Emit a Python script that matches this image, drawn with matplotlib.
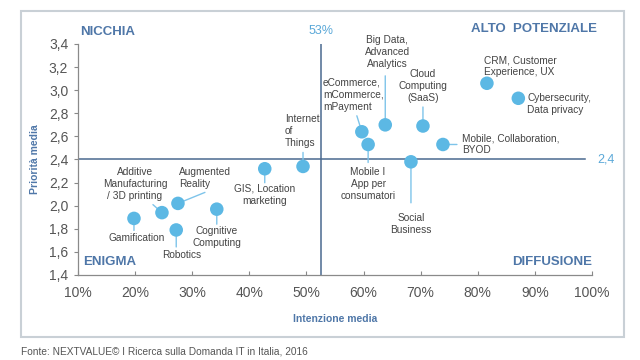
import matplotlib.pyplot as plt
from matplotlib.patches import Rectangle
from matplotlib.ticker import FuncFormatter

# data
labels = [
    "Gamification",
    "Additive\nManufacturing\n/ 3D printing",
    "Augmented\nReality",
    "Robotics",
    "Cognitive\nComputing",
    "GIS, Location\nmarketing",
    "Internet\nof\nThings",
    "eCommerce,\nmCommerce,\nmPayment",
    "Mobile I\nApp per\nconsumatori",
    "Big Data,\nAdvanced\nAnalytics",
    "Cloud\nComputing\n(SaaS)",
    "Social\nBusiness",
    "Mobile, Collaboration,\nBYOD",
    "CRM, Customer\nExperience, UX",
    "Cybersecurity,\nData privacy",
]
intenzione = [19.8, 24.7, 27.5, 27.2, 34.3, 42.7, 49.4, 59.7, 60.8, 63.8, 70.4, 68.3, 73.9, 81.6, 87.1]
priorita = [1.89, 1.94, 2.02, 1.79, 1.97, 2.32, 2.34, 2.64, 2.53, 2.70, 2.69, 2.38, 2.53, 3.06, 2.93]

x_split = 52.5
y_split = 2.4
x_ticks = [10, 20, 30, 40, 50, 60, 70, 80, 90, 100]
y_ticks = [1.4, 1.6, 1.8, 2.0, 2.2, 2.4, 2.6, 2.8, 3.0, 3.2, 3.4]

# label placement in pixels relative to each point: text offset, alignment, leader end
placement = [
    ((3, -20), "center", (0, -12)),
    ((-27, 29), "center", (-9, 8)),
    ((1, 25), "left", (27, 11)),
    ((5, -25), "center", (0, -17)),
    ((0, -28), "center", (0, -15)),
    ((0, -26), "center", (0, -14)),
    ((-18, 35), "left", (0, 14)),
    ((-39, 37), "left", (-5, 16)),
    ((0, -40), "center", (0, -18)),
    ((2, 73), "center", (0, 49)),
    ((0, 40), "center", (0, 19)),
    ((0, -62), "center", (0, -41)),
    ((19, 0), "left", (14, 0)),
    ((-3, 17), "left", None),
    ((9, -6), "left", None),
]

plt.rcParams["font.family"] = ["Liberation Sans", "DejaVu Sans"]

point_color = "#5cb8e4"
leader_color = "#7ec4ea"
split_color = "#4a6a8f"
quad_color = "#4f77a8"
text_color = "#444444"

fig = plt.figure(figsize=(6.4, 3.6), dpi=100, facecolor="white")
ax = fig.add_axes([78 / 640, 1 - 275 / 360, 514 / 640, 231 / 360])

# outer frame
fig.patches.append(Rectangle((21 / 640, 1 - 337 / 360), 603 / 640, 326 / 360,
                             transform=fig.transFigure, fill=False,
                             edgecolor="#c9d0d6", linewidth=1.5))

ax.axhline(y_split, xmin=0, xmax=(585 - 78) / 514, color=split_color, linewidth=1.1, zorder=1)
ax.axvline(x_split, color=split_color, linewidth=1.1, zorder=1)

for x, y, text, (off, ha, lead) in zip(intenzione, priorita, labels, placement):
    if lead is not None:
        ax.annotate("", xy=(x, y), xytext=lead, textcoords="offset pixels",
                    arrowprops=dict(arrowstyle="-", color=leader_color, lw=1.0,
                                    shrinkA=0, shrinkB=0), zorder=2)
    ax.annotate(text, xy=(x, y), xytext=off, textcoords="offset pixels",
                ha=ha, va="center", fontsize=7.3, color=text_color,
                multialignment=ha, linespacing=1.25)

ax.scatter(intenzione, priorita, s=95, color=point_color, edgecolor="none", zorder=3)

ax.set_xlim(10, 100)
ax.set_ylim(1.4, 3.4)
ax.set_xticks(x_ticks)
ax.set_yticks(y_ticks)
ax.xaxis.set_major_formatter(FuncFormatter(lambda v, p: f"{v:.0f}%"))
ax.yaxis.set_major_formatter(FuncFormatter(lambda v, p: f"{v:.1f}".replace(".", ",")))
ax.tick_params(axis="y", direction="out", length=3, color="#888888", labelsize=10,
               labelcolor="#555555", pad=4)
ax.tick_params(axis="x", direction="in", length=3, color="#888888", labelsize=10,
               labelcolor="#555555", pad=8)
for side in ["top", "right"]:
    ax.spines[side].set_visible(False)
for side in ["left", "bottom"]:
    ax.spines[side].set_color("#8a8a8a")
    ax.spines[side].set_linewidth(0.9)

ax.set_xlabel("Intenzione media", fontsize=7.5, fontweight="bold", color=quad_color, labelpad=10)
ax.set_ylabel("Priorità media", fontsize=7.5, fontweight="bold", color=quad_color, labelpad=6)

# quadrant names
ax.text(0.004, 1.05, "NICCHIA", transform=ax.transAxes, fontsize=9.5, fontweight="bold",
        color=quad_color, va="center", ha="left")
ax.text(1.0097, 1.065, "ALTO  POTENZIALE", transform=ax.transAxes, fontsize=9.5, fontweight="bold",
        color=quad_color, va="center", ha="right")
ax.text(0.01, 0.055, "ENIGMA", transform=ax.transAxes, fontsize=9.5, fontweight="bold",
        color=quad_color, va="center", ha="left")
ax.text(1.0, 0.055, "DIFFUSIONE", transform=ax.transAxes, fontsize=9.5, fontweight="bold",
        color=quad_color, va="center", ha="right")

ax.text(x_split, 1.055, "53%", transform=ax.get_xaxis_transform(), fontsize=9,
        color="#5aa8d8", ha="center", va="center")
ax.text(1.01, y_split, "2,4", transform=ax.get_yaxis_transform(), fontsize=9,
        color="#5aa8d8", ha="left", va="center")

fig.text(21 / 640, 1 - 352 / 360, "Fonte: NEXTVALUE\u00a9 I Ricerca sulla Domanda IT in Italia, 2016",
         fontsize=7.3, color="#555555", ha="left", va="center")

fig.savefig("out.png", dpi=100)
